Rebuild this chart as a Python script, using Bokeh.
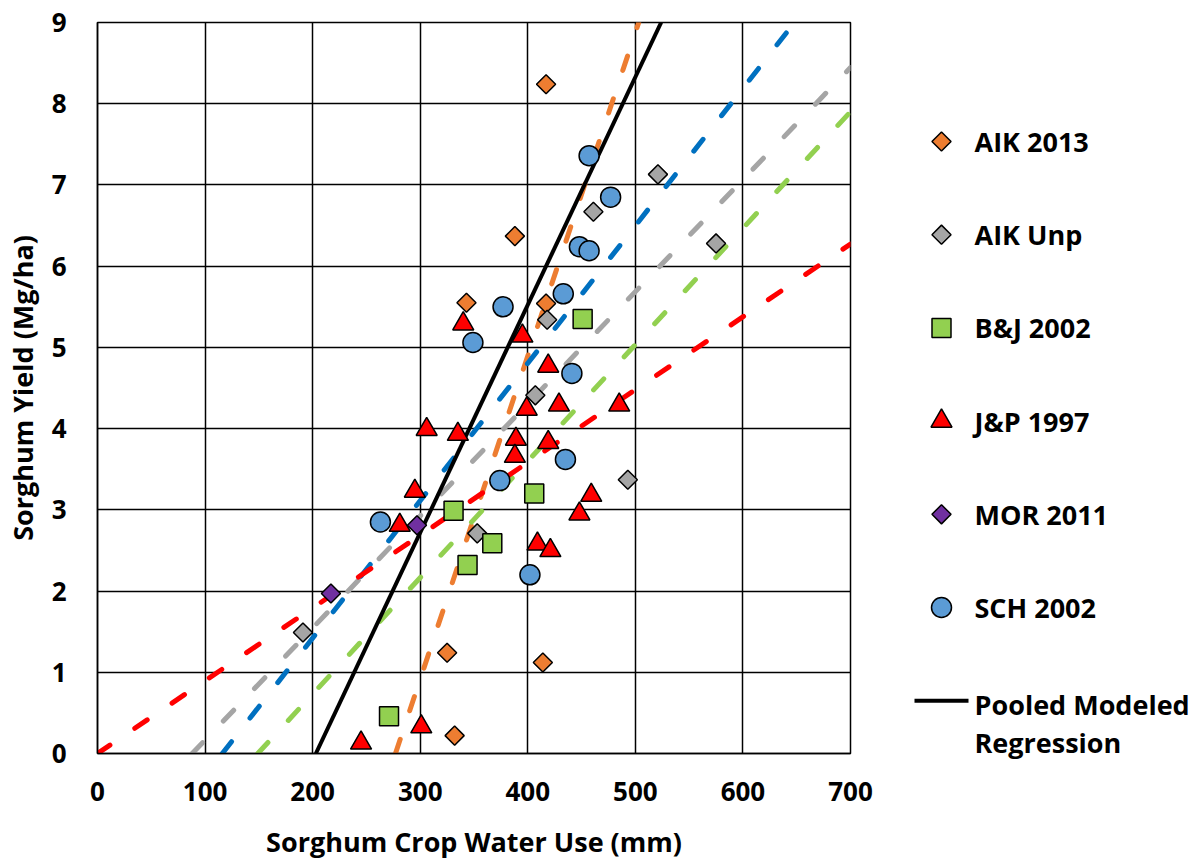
import numpy as np
from bokeh.plotting import figure
from bokeh.layouts import row, column
from bokeh.models import Range1d, FixedTicker
from bokeh.core.properties import value
from bokeh.embed import file_html
from bokeh.resources import INLINE

# ---- data ----
aik2013_x = [417, 388, 343, 417, 325, 414, 332]
aik2013_y = [8.24, 6.37, 5.55, 5.54, 1.24, 1.12, 0.22]

aikunp_x = [521, 461, 418, 407, 493, 353, 575, 191]
aikunp_y = [7.13, 6.67, 5.34, 4.41, 3.37, 2.71, 6.28, 1.49]

bj_x = [451, 406, 331, 367, 344, 271]
bj_y = [5.35, 3.20, 2.99, 2.59, 2.32, 0.46]

jp_x = [340, 395, 419, 306, 335, 399, 429, 485, 389, 388, 419, 295, 459, 448, 281, 409, 421, 245, 301]
jp_y = [5.29, 5.14, 4.77, 3.99, 3.93, 4.24, 4.29, 4.29, 3.87, 3.66, 3.83, 3.23, 3.18, 2.95, 2.81, 2.58, 2.50, 0.13, 0.33]

mor_x = [217, 297]
mor_y = [1.97, 2.81]

sch_x = [457, 477, 448, 457, 433, 377, 349, 441, 435, 374, 263, 402]
sch_y = [7.36, 6.85, 6.24, 6.19, 5.66, 5.50, 5.06, 4.68, 3.62, 3.36, 2.85, 2.20]

# trendlines: x-intercept (mm at zero yield) and slope (Mg/ha per mm)
trend_names = ["AIK 2013", "SCH 2002", "AIK Unp", "B&J 2002", "J&P 1997"]
trend_x0 = [277, 116, 88, 149, 0]
trend_slope = [0.0398, 0.01692, 0.0138, 0.01434, 0.00896]
trend_colors = ["#ED7D31", "#0070C0", "#A5A5A5", "#92D050", "#FF0000"]

pooled_x0 = 203
pooled_slope = 0.02804

series_names = ["AIK 2013", "AIK Unp", "B&J 2002", "J&P 1997", "MOR 2011", "SCH 2002"]
pooled_label = "Pooled Modeled\nRegression"

x_ticks = [0, 100, 200, 300, 400, 500, 600, 700]
y_ticks = [0, 1, 2, 3, 4, 5, 6, 7, 8, 9]
X_MAX, Y_MAX = 700, 9

FONT = "Open Sans"
RIGHT_PAD = 25
LEG_W = 348 - RIGHT_PAD
H = 859
TOP, FRAME_H, BOTTOM = 22, 731, 106

p = figure(frame_width=753, frame_height=FRAME_H,
           min_border_left=95, min_border_right=RIGHT_PAD,
           min_border_top=TOP, min_border_bottom=BOTTOM,
           x_range=Range1d(0, X_MAX), y_range=Range1d(0, Y_MAX),
           output_backend="svg", toolbar_location=None,
           background_fill_color="white", border_fill_color="white")

p.outline_line_color = "black"
p.outline_line_width = 1.5

for ax in (p.xaxis[0], p.yaxis[0]):
    ax.major_tick_line_color = None
    ax.minor_tick_line_color = None
    ax.major_tick_out = 0
    ax.major_tick_in = 0
    ax.axis_line_color = "black"
    ax.axis_line_width = 1.5
    ax.major_label_text_font = FONT
    ax.major_label_text_font_style = "bold"
    ax.major_label_text_font_size = "26px"
    ax.major_label_text_color = "black"
    ax.axis_label_text_font = FONT
    ax.axis_label_text_font_style = "bold"
    ax.axis_label_text_font_size = "27px"
    ax.axis_label_text_color = "black"

p.xaxis.ticker = FixedTicker(ticks=x_ticks)
p.yaxis.ticker = FixedTicker(ticks=y_ticks)
p.xaxis.axis_label = "Sorghum Crop Water Use (mm)"
p.yaxis.axis_label = "Sorghum Yield (Mg/ha)"
p.xaxis.major_label_standoff = 28
p.yaxis.major_label_standoff = 31
p.xaxis.axis_label_standoff = 19
p.yaxis.axis_label_standoff = 8

for g in (p.xgrid[0], p.ygrid[0]):
    g.grid_line_color = "black"
    g.grid_line_width = 1.5

# dashed trendlines
for x0, s, c in zip(trend_x0, trend_slope, trend_colors):
    x1 = min(X_MAX, x0 + Y_MAX / s)
    p.line([x0, x1], [0, s * (x1 - x0)], line_color=c, line_width=5,
           line_dash="15 30", line_cap="round")

# pooled regression
px1 = min(X_MAX, pooled_x0 + Y_MAX / pooled_slope)
p.line([pooled_x0, px1], [0, pooled_slope * (px1 - pooled_x0)],
       line_color="black", line_width=4)

ol = dict(line_color="black", line_width=1.5)
styles = [
    dict(marker="square", angle=np.pi / 4, size=13.5, fill_color="#ED7D31"),
    dict(marker="square", angle=np.pi / 4, size=13.5, fill_color="#A5A5A5"),
    dict(marker="square", size=19, fill_color="#92D050"),
    dict(marker="triangle", size=21, fill_color="#FF0000"),
    dict(marker="square", angle=np.pi / 4, size=13.5, fill_color="#7030A0"),
    dict(marker="circle", size=20, fill_color="#5B9BD5"),
]
series_x = [aik2013_x, aikunp_x, bj_x, jp_x, mor_x, sch_x]
series_y = [aik2013_y, aikunp_y, bj_y, jp_y, mor_y, sch_y]
for xs, ys, st in zip(series_x, series_y, styles):
    p.scatter(xs, ys, **st, **ol)

# ---- legend panel (page-pixel coordinates, y downwards) ----
leg = figure(frame_width=LEG_W, frame_height=H,
             x_range=Range1d(0, LEG_W), y_range=Range1d(H, 0),
             output_backend="svg", toolbar_location=None,
             x_axis_type=None, y_axis_type=None,
             min_border=0,
             border_fill_color="white", background_fill_color="white")
leg.outline_line_color = None
leg.xgrid.visible = False
leg.ygrid.visible = False

LEFT = 848 + RIGHT_PAD
mx = 939 - LEFT
tx = 972 - LEFT
row0, step = 141, 93.2
for i, (name, st) in enumerate(zip(series_names, styles)):
    yy = row0 + i * step
    leg.scatter([mx], [yy], **st, **ol)
    leg.text([tx], [yy], text=[name], text_font=value(FONT), text_font_style="bold",
             text_font_size="27px", text_baseline="middle", text_align="left",
             text_color="black")

yl = row0 + 6 * step
leg.line([912 - LEFT, 966 - LEFT], [yl, yl], line_color="black", line_width=4)
leg.text([tx], [yl - 15], text=[pooled_label], text_font=value(FONT), text_font_style="bold",
         text_font_size="27px", text_baseline="top", text_align="left",
         text_color="black", text_line_height=1.04)

layout = row(p, column(leg, spacing=0), spacing=0)
open("out.html", "w").write(file_html(layout, INLINE))
